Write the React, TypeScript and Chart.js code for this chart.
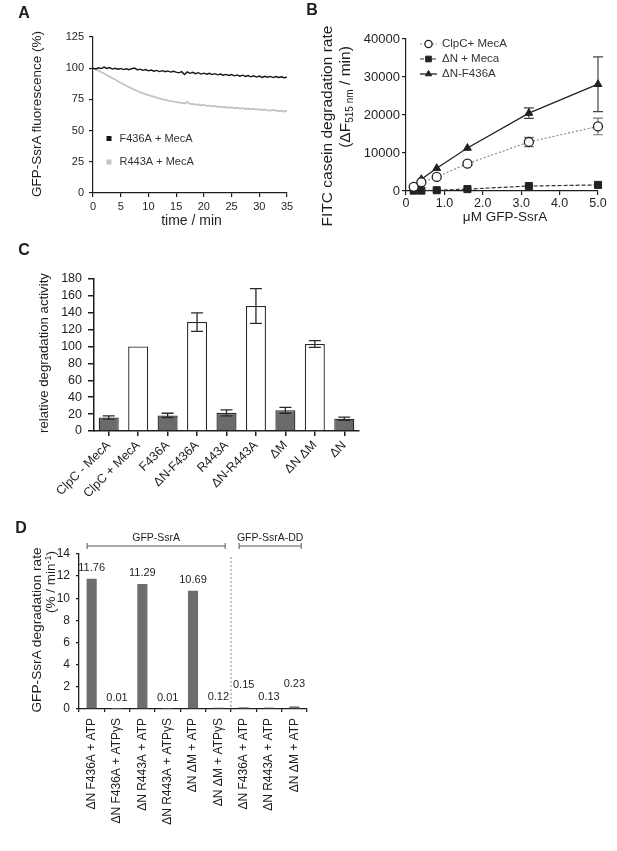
import React, { useEffect, useRef } from 'react';
import { Chart, registerables } from 'chart.js';

Chart.register(...registerables);

const FONT = '"Liberation Sans", Arial, Helvetica, sans-serif';
const INK = '#1e1e1e';
const W = 617;
const H = 851;

// ---------------- Panel A : GFP-SsrA fluorescence over time ----------------
const timeMin = [
  0, 0.5, 1, 1.5, 2, 2.5, 3, 3.5, 4, 4.5,
  5, 5.5, 6, 6.5, 7, 7.5, 8, 8.5, 9, 9.5,
  10, 10.5, 11, 11.5, 12, 12.5, 13, 13.5, 14, 14.5,
  15, 15.5, 16, 16.5, 17, 17.5, 18, 18.5, 19, 19.5,
  20, 20.5, 21, 21.5, 22, 22.5, 23, 23.5, 24, 24.5,
  25, 25.5, 26, 26.5, 27, 27.5, 28, 28.5, 29, 29.5,
  30, 30.5, 31, 31.5, 32, 32.5, 33, 33.5, 34, 34.5,
  35,
];
const f436aMecA = [
  100.0, 99.4, 100.3, 99.7, 100.9, 99.8, 100.5, 99.3, 99.9, 99.2,
  99.8, 98.9, 99.5, 98.8, 99.6, 100.1, 98.7, 99.2, 98.3, 98.9,
  97.9, 98.5, 97.6, 98.2, 97.3, 98.0, 97.2, 97.8, 96.9, 97.5,
  96.8, 96.3, 97.2, 95.0, 97.0, 95.9, 96.7, 95.6, 96.4, 95.3,
  96.0, 95.2, 95.9, 94.9, 95.6, 94.7, 95.3, 94.4, 95.0, 94.2,
  94.9, 93.9, 94.6, 93.6, 94.4, 93.4, 94.1, 93.1, 93.9, 92.9,
  93.7, 92.6, 93.5, 92.8, 93.4, 92.5, 93.3, 92.6, 93.1, 92.4,
  92.9,
];
const r443aMecA = [
  100.0, 99.0, 98.1, 96.8, 95.7, 94.4, 93.3, 92.0, 90.9, 89.6,
  88.4, 87.2, 86.0, 84.8, 83.9, 82.6, 81.7, 80.6, 80.0, 79.1,
  78.5, 77.6, 77.2, 76.3, 75.9, 75.1, 74.8, 74.1, 73.9, 73.2,
  73.0, 72.4, 72.3, 71.7, 73.0, 71.4, 71.3, 70.8, 70.9, 70.3,
  70.5, 69.8, 70.0, 69.4, 69.7, 69.0, 69.3, 68.7, 68.9, 68.3,
  68.6, 68.0, 68.3, 67.7, 68.0, 67.3, 67.7, 67.1, 67.4, 66.8,
  67.1, 66.5, 66.9, 66.2, 66.0, 66.6, 66.1, 65.6, 66.0, 65.3,
  65.7,
];
const seriesANames = ['F436A + MecA', 'R443A + MecA'];

// ---------------- Panel B : FITC casein degradation rate ----------------
const gfpSsrA = [0.2, 0.4, 0.8, 1.6, 3.2, 5.0];
const clpcMecA = [1100, 2300, 3700, 7200, 12900, 17000];
const clpcMecAErr = [0, 0, 0, 300, 1200, 2200];
const dnMeca = [100, 100, 200, 500, 1300, 1600];
const dnMecaErr = [0, 0, 0, 0, 0, 0];
const dnF436A = [1200, 3100, 6000, 11300, 20500, 28100];
const dnF436AErr = [0, 0, 0, 0, 1400, 7200];
const seriesBNames = ['ClpC+ MecA', 'ΔN + Meca', 'ΔN-F436A'];

// ---------------- Panel C : relative degradation activity ----------------
const cLabels = ['ClpC - MecA', 'ClpC + MecA', 'F436A', 'ΔN-F436A', 'R443A', 'ΔN-R443A', 'ΔM', 'ΔN ΔM', 'ΔN'];
const cActivity = [16, 100, 18.5, 129, 21.5, 148, 24.5, 103, 14.5];
const cError = [2, 0, 2.5, 11, 3.5, 20.5, 3.5, 4, 2];

// ---------------- Panel D : GFP-SsrA degradation rate ----------------
const dLabels = [
  'ΔN F436A + ATP', 'ΔN F436A + ATPγS', 'ΔN R443A + ATP', 'ΔN R443A + ATPγS',
  'ΔN ΔM + ATP', 'ΔN ΔM + ATPγS', 'ΔN F436A + ATP', 'ΔN R443A + ATP', 'ΔN ΔM + ATP',
];
const dRate = [11.76, 0.01, 11.29, 0.01, 10.69, 0.12, 0.15, 0.13, 0.23];
const dGroupNames = ['GFP-SsrA', 'GFP-SsrA-DD'];
const dGroupFirst = [0, 6];
const dGroupLast = [5, 8];

// ---------------------------------------------------------------------------

function axisLook(size: number, tickLen: number, pad: number, lw = 1.2, extraTicks: any = {}, extraGrid: any = {}) {
  return {
    border: { display: true, color: INK, width: lw },
    grid: {
      display: true, drawOnChartArea: false, drawTicks: true, tickLength: tickLen,
      tickColor: INK, tickWidth: lw, color: INK, lineWidth: lw, ...extraGrid,
    },
    ticks: { color: INK, font: { family: FONT, size }, padding: pad, autoSkip: false, ...extraTicks },
  };
}

function drawMarker(ctx: CanvasRenderingContext2D, style: string, x: number, y: number, r: number,
  fill: string, stroke: string, lw: number) {
  ctx.beginPath();
  if (style === 'circle') {
    ctx.arc(x, y, r, 0, Math.PI * 2);
  } else if (style === 'rect') {
    const s = r * Math.SQRT1_2;
    ctx.rect(x - s, y - s, 2 * s, 2 * s);
  } else {
    ctx.moveTo(x, y - r);
    ctx.lineTo(x + 0.866 * r, y + 0.5 * r);
    ctx.lineTo(x - 0.866 * r, y + 0.5 * r);
    ctx.closePath();
  }
  ctx.fillStyle = fill;
  ctx.fill();
  ctx.lineWidth = lw;
  ctx.strokeStyle = stroke;
  ctx.stroke();
}

const legendA = {
  id: 'legendA',
  afterDraw(chart: any) {
    const { ctx, chartArea: a } = chart;
    ctx.save();
    ctx.font = `11px ${FONT}`;
    ctx.textBaseline = 'middle';
    chart.data.datasets.forEach((ds: any, i: number) => {
      const y = a.top + 101.5 + i * 23.5;
      ctx.fillStyle = ds.borderColor;
      ctx.fillRect(a.left + 13.5, y - 2.5, 5, 5);
      ctx.fillStyle = '#333';
      ctx.fillText(ds.label, a.left + 26.5, y);
    });
    ctx.restore();
  },
};

function chartA(): any {
  return {
    type: 'line',
    data: {
      datasets: [
        {
          label: seriesANames[0], data: timeMin.map((t, i) => ({ x: t, y: f436aMecA[i] })),
          borderColor: '#151515', borderWidth: 1.4, pointRadius: 0, fill: false,
        },
        {
          label: seriesANames[1], data: timeMin.map((t, i) => ({ x: t, y: r443aMecA[i] })),
          borderColor: '#c4c4c4', borderWidth: 1.8, pointRadius: 0, fill: false,
        },
      ],
    },
    options: {
      responsive: false, animation: false, events: [],
      layout: { padding: { left: 0, top: 37, right: W - 287, bottom: H - 193 - 24 } },
      plugins: { legend: { display: false }, tooltip: { enabled: false } },
      scales: {
        x: {
          type: 'linear', min: 0, max: 35,
          ...axisLook(11, 4, 3, 1.2, { stepSize: 5, maxRotation: 0 }),
          afterFit: (s: any) => { s.height = 24; },
        },
        y: {
          type: 'linear', min: 0, max: 125,
          ...axisLook(11, 4, 5, 1.2, { stepSize: 25 }),
          afterFit: (s: any) => { s.width = 93; },
        },
      },
    },
    plugins: [legendA],
  };
}

const errorBarsB = {
  id: 'errorBarsB',
  beforeDatasetsDraw(chart: any) {
    const { ctx } = chart;
    const ys = chart.scales.y;
    chart.data.datasets.forEach((ds: any, di: number) => {
      const meta = chart.getDatasetMeta(di);
      ctx.save();
      ctx.strokeStyle = ds.errColor;
      ctx.lineWidth = 1.2;
      ds.errors.forEach((e: number, i: number) => {
        if (!e) return;
        const p = meta.data[i];
        const v = ds.data[i].y;
        const t = ys.getPixelForValue(v + e);
        const b = ys.getPixelForValue(v - e);
        ctx.beginPath();
        ctx.moveTo(p.x, t); ctx.lineTo(p.x, b);
        ctx.moveTo(p.x - 5, t); ctx.lineTo(p.x + 5, t);
        ctx.moveTo(p.x - 5, b); ctx.lineTo(p.x + 5, b);
        ctx.stroke();
      });
      ctx.restore();
    });
  },
};

const legendB = {
  id: 'legendB',
  afterDraw(chart: any) {
    const { ctx, chartArea: a } = chart;
    ctx.save();
    ctx.font = `11.5px ${FONT}`;
    ctx.textBaseline = 'middle';
    chart.data.datasets.forEach((ds: any, i: number) => {
      const y = a.top + 5 + i * 15;
      ctx.save();
      ctx.strokeStyle = ds.borderColor;
      ctx.lineWidth = ds.borderWidth;
      ctx.setLineDash(ds.borderDash || []);
      ctx.beginPath();
      ctx.moveTo(a.left + 14, y);
      ctx.lineTo(a.left + 31, y);
      ctx.stroke();
      ctx.restore();
      drawMarker(ctx, ds.pointStyle, a.left + 22.5, y, ds.pointRadius * 0.8,
        ds.pointBackgroundColor, ds.pointBorderColor, ds.pointBorderWidth);
      ctx.fillStyle = '#333';
      ctx.fillText(ds.label, a.left + 36, y);
    });
    ctx.restore();
  },
};

function chartB(): any {
  return {
    type: 'line',
    data: {
      datasets: [
        {
          label: seriesBNames[0], data: gfpSsrA.map((x, i) => ({ x, y: clpcMecA[i] })),
          errors: clpcMecAErr, errColor: '#777',
          borderColor: '#8a8a8a', borderDash: [2, 2], borderWidth: 1.2,
          pointStyle: 'circle', pointRadius: 4.5, pointBackgroundColor: '#ffffff',
          pointBorderColor: '#222', pointBorderWidth: 1.3, clip: false,
        },
        {
          label: seriesBNames[1], data: gfpSsrA.map((x, i) => ({ x, y: dnMeca[i] })),
          errors: dnMecaErr, errColor: '#333',
          borderColor: '#333', borderDash: [4, 2], borderWidth: 1.2,
          pointStyle: 'rect', pointRadius: 5, pointBackgroundColor: '#222',
          pointBorderColor: '#222', pointBorderWidth: 1, clip: false,
        },
        {
          label: seriesBNames[2], data: gfpSsrA.map((x, i) => ({ x, y: dnF436A[i] })),
          errors: dnF436AErr, errColor: '#444',
          borderColor: '#222', borderWidth: 1.3,
          pointStyle: 'triangle', pointRadius: 4.5, pointBackgroundColor: '#222',
          pointBorderColor: '#222', pointBorderWidth: 1, clip: false,
        },
      ],
    },
    options: {
      responsive: false, animation: false, events: [],
      layout: { padding: { left: 0, top: 39, right: W - 598, bottom: H - 191 - 22 } },
      plugins: { legend: { display: false }, tooltip: { enabled: false } },
      scales: {
        x: {
          type: 'linear', min: 0, max: 5,
          ...axisLook(12.5, 4, 1, 1.2, {
            stepSize: 1, maxRotation: 0,
            callback: (v: number) => (v === 0 ? '0' : Number(v).toFixed(1)),
          }),
          afterFit: (s: any) => { s.height = 22; },
        },
        y: {
          type: 'linear', min: 0, max: 40000,
          ...axisLook(13, 4, 2, 1.2, { stepSize: 10000, callback: (v: number) => String(v) }),
          afterFit: (s: any) => { s.width = 406; },
        },
      },
    },
    plugins: [errorBarsB, legendB],
  };
}

const errorBarsC = {
  id: 'errorBarsC',
  afterDatasetsDraw(chart: any) {
    const { ctx } = chart;
    const ys = chart.scales.y;
    const meta = chart.getDatasetMeta(0);
    ctx.save();
    ctx.strokeStyle = '#2a2a2a';
    ctx.lineWidth = 1.3;
    cActivity.forEach((v, i) => {
      const e = cError[i];
      if (!e) return;
      const x = meta.data[i].x;
      const t = ys.getPixelForValue(v + e);
      const b = ys.getPixelForValue(v - e);
      ctx.beginPath();
      ctx.moveTo(x, t); ctx.lineTo(x, b);
      ctx.moveTo(x - 6, t); ctx.lineTo(x + 6, t);
      ctx.moveTo(x - 6, b); ctx.lineTo(x + 6, b);
      ctx.stroke();
    });
    ctx.restore();
  },
};

function chartC(): any {
  return {
    type: 'bar',
    data: {
      labels: cLabels,
      datasets: [{
        data: cActivity,
        backgroundColor: cLabels.map((_, i) => (i % 2 === 0 ? '#6b6b6b' : '#ffffff')),
        borderColor: '#2a2a2a', borderWidth: 1.3,
        barPercentage: 0.68, categoryPercentage: 1,
      }],
    },
    options: {
      responsive: false, animation: false, events: [],
      layout: { padding: { left: 0, top: 279, right: W - 359, bottom: H - 431 - 70 } },
      plugins: { legend: { display: false }, tooltip: { enabled: false } },
      scales: {
        x: {
          ...axisLook(12.5, 5, 2, 1.5, { minRotation: 45, maxRotation: 45 }, { offset: false }),
          afterFit: (s: any) => { s.height = 70; },
        },
        y: {
          min: 0, max: 180,
          ...axisLook(12.5, 6, 6, 1.5, { stepSize: 20 }),
          afterFit: (s: any) => { s.width = 94; },
        },
      },
    },
    plugins: [errorBarsC],
  };
}

const annotD = {
  id: 'annotD',
  afterDatasetsDraw(chart: any) {
    const { ctx, chartArea: a } = chart;
    const xs = chart.scales.x;
    const meta = chart.getDatasetMeta(0);
    const lift = [0, 0, 0, 0, 0, 0, 1, 0, 1];
    ctx.save();
    ctx.font = `11px ${FONT}`;
    ctx.fillStyle = INK;
    ctx.textAlign = 'center';
    ctx.textBaseline = 'middle';
    dRate.forEach((v, i) => {
      const bar = meta.data[i];
      ctx.fillText(v.toFixed(2), bar.x, bar.y - 11 - lift[i] * 11);
    });
    // dotted separator between the two substrate groups
    const sepX = (xs.getPixelForValue(5) + xs.getPixelForValue(6)) / 2;
    ctx.strokeStyle = '#888';
    ctx.lineWidth = 1;
    ctx.setLineDash([2, 2]);
    ctx.beginPath();
    ctx.moveTo(sepX, a.top + 3);
    ctx.lineTo(sepX, a.bottom);
    ctx.stroke();
    ctx.setLineDash([]);
    // group brackets
    const cw = xs.getPixelForValue(1) - xs.getPixelForValue(0);
    ctx.strokeStyle = '#555';
    ctx.font = `10.5px ${FONT}`;
    dGroupNames.forEach((name, g) => {
      const l = xs.getPixelForValue(dGroupFirst[g]) - 0.18 * cw;
      const r = xs.getPixelForValue(dGroupLast[g]) + 0.27 * cw;
      const y = a.top - 8;
      ctx.beginPath();
      ctx.moveTo(l, y); ctx.lineTo(r, y);
      ctx.moveTo(l, y - 3); ctx.lineTo(l, y + 3);
      ctx.moveTo(r, y - 3); ctx.lineTo(r, y + 3);
      ctx.stroke();
      ctx.fillText(name, (l + r) / 2, y - 8);
    });
    ctx.restore();
  },
};

function chartD(): any {
  return {
    type: 'bar',
    data: {
      labels: dLabels,
      datasets: [{
        data: dRate, backgroundColor: '#6d6d6d', borderWidth: 0,
        barPercentage: 0.4, categoryPercentage: 1,
      }],
    },
    options: {
      responsive: false, animation: false, events: [],
      layout: { padding: { left: 0, top: 554, right: W - 307, bottom: H - 709 - 130 } },
      plugins: { legend: { display: false }, tooltip: { enabled: false } },
      scales: {
        x: {
          ...axisLook(12, 3, 6, 1.3, { minRotation: 90, maxRotation: 90 }, { offset: true }),
          afterFit: (s: any) => { s.height = 130; },
        },
        y: {
          min: 0, max: 14,
          ...axisLook(12, 3, 6, 1.3, { stepSize: 2 }),
          afterFit: (s: any) => { s.width = 79; },
        },
      },
    },
    plugins: [annotD],
  };
}

function Txt(props: { x: number; y: number; size: number; rot?: boolean; bold?: boolean; children: any }) {
  const { x, y, size, rot, bold, children } = props;
  return (
    <div
      style={{
        position: 'absolute', left: x, top: y,
        transform: `translate(-50%, -50%)${rot ? ' rotate(-90deg)' : ''}`,
        fontSize: size, fontWeight: bold ? 700 : 400, lineHeight: 1,
        whiteSpace: 'nowrap', fontFamily: FONT, color: INK,
      }}
    >
      {children}
    </div>
  );
}

export default function App() {
  const refA = useRef<HTMLCanvasElement>(null);
  const refB = useRef<HTMLCanvasElement>(null);
  const refC = useRef<HTMLCanvasElement>(null);
  const refD = useRef<HTMLCanvasElement>(null);

  useEffect(() => {
    const charts = [
      new Chart(refA.current as HTMLCanvasElement, chartA()),
      new Chart(refB.current as HTMLCanvasElement, chartB()),
      new Chart(refC.current as HTMLCanvasElement, chartC()),
      new Chart(refD.current as HTMLCanvasElement, chartD()),
    ];
    return () => charts.forEach((c) => c.destroy());
  }, []);

  const cv = { position: 'absolute' as const, left: 0, top: 0, width: W, height: H };

  return (
    <div style={{ position: 'absolute', left: 0, top: 0, width: W, height: H, background: '#fff', overflow: 'hidden' }}>
      <canvas ref={refA} width={W} height={H} style={cv} />
      <canvas ref={refB} width={W} height={H} style={cv} />
      <canvas ref={refC} width={W} height={H} style={cv} />
      <canvas ref={refD} width={W} height={H} style={cv} />

      <Txt x={24} y={13} size={16} bold>A</Txt>
      <Txt x={312} y={10} size={16} bold>B</Txt>
      <Txt x={24} y={250} size={16} bold>C</Txt>
      <Txt x={21} y={527.5} size={16} bold>D</Txt>

      <Txt x={37} y={114} size={13.5} rot>GFP-SsrA fluorescence (%)</Txt>
      <Txt x={191.5} y={220} size={14}>time / min</Txt>

      <Txt x={327} y={126} size={15.5} rot>FITC casein degradation rate</Txt>
      <Txt x={346} y={97} size={15.5} rot>
        (ΔF<sub style={{ fontSize: '0.65em', verticalAlign: '-0.3em' }}>515 nm</sub> / min)
      </Txt>
      <Txt x={505} y={217} size={13.5}>μM GFP-SsrA</Txt>

      <Txt x={44} y={353} size={13.2} rot>relative degradation activity</Txt>

      <Txt x={36.5} y={630} size={13.7} rot>GFP-SsrA degradation rate</Txt>
      <Txt x={50.5} y={582} size={13.5} rot>
        (% / min<sup style={{ fontSize: '0.65em', verticalAlign: '0.5em' }}>-1</sup>)
      </Txt>
    </div>
  );
}
